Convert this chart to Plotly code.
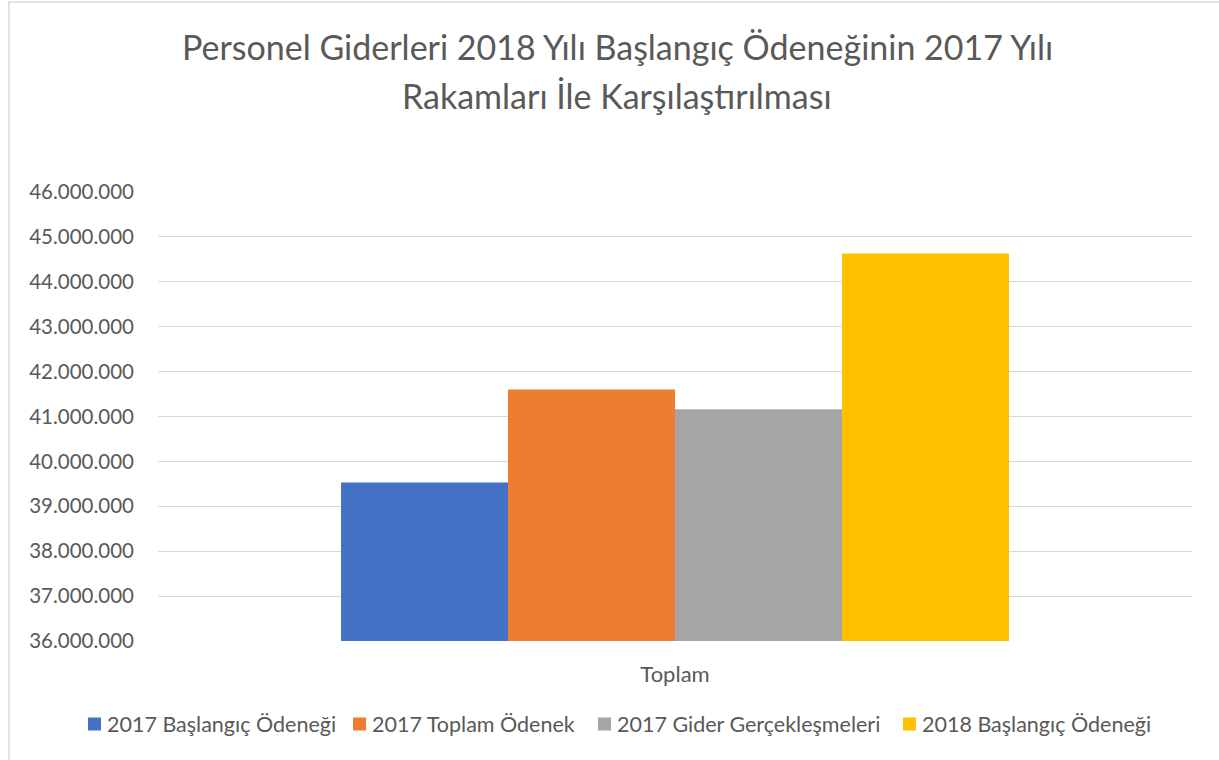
import plotly.graph_objects as go

categories = ["Toplam"]
series_names = ["2017 Başlangıç Ödeneği", "2017 Toplam Ödenek", "2017 Gider Gerçekleşmeleri", "2018 Başlangıç Ödeneği"]
series_values = [[39530000], [41600000], [41160000], [44630000]]
colors = ["#4472C4", "#ED7D31", "#A5A5A5", "#FFC000"]
tick_vals = [36000000 + i * 1000000 for i in range(11)]
title_lines = ["Personel Giderleri 2018 Yılı Başlangıç Ödeneğinin 2017 Yılı",
               "Rakamları İle Karşılaştırılması"]

FONT = "Lato, 'Open Sans', sans-serif"
TXT = "#595959"
W, H = 1219, 760
L, R, T, B = 158, 27, 192, 119
pw = W - L - R
ph = H - T - B
CX = 617
LEGEND_SYMBOL_X = [88, 353, 598, 903]   # layout positions (px) of legend keys
LEGEND_Y = 724
SYM = 13


def px(x):
    return (x - L) / pw


def py(y):
    return (T + ph - y) / ph


fig = go.Figure()
for name, vals, col in zip(series_names, series_values, colors):
    fig.add_trace(go.Bar(x=categories, y=vals, name=name, showlegend=False,
                         marker=dict(color=col, line=dict(width=0))))

annotations = []
for line, ypix in zip(title_lines, [47, 95]):
    annotations.append(dict(text=line, xref="paper", yref="paper", x=px(CX), y=py(ypix),
                            xanchor="center", yanchor="middle", showarrow=False,
                            font=dict(family=FONT, size=34, color=TXT)))

shapes = [dict(type="rect", xref="paper", yref="paper",
               x0=px(9), x1=px(1240), y0=py(2), y1=py(H + 20),
               line=dict(color="#D9D9D9", width=1.5), layer="below")]

# legend built from the series names and colours
for name, col, sx in zip(series_names, colors, LEGEND_SYMBOL_X):
    shapes.append(dict(type="rect", xref="paper", yref="paper",
                       x0=px(sx), x1=px(sx + SYM), y0=py(LEGEND_Y - SYM / 2), y1=py(LEGEND_Y + SYM / 2),
                       fillcolor=col, line=dict(width=0)))
    annotations.append(dict(text=name, xref="paper", yref="paper", x=px(sx + SYM + 4), y=py(LEGEND_Y),
                            xanchor="left", yanchor="middle", showarrow=False,
                            font=dict(family=FONT, size=21.5, color=TXT)))

fig.update_layout(
    width=W, height=H,
    margin=dict(l=L, r=R, t=T, b=B, autoexpand=False),
    paper_bgcolor="white", plot_bgcolor="white",
    separators=",.",
    barmode="group", bargap=0.354, bargroupgap=0,
    font=dict(family=FONT, color=TXT, size=21),
    showlegend=False,
    xaxis=dict(showgrid=False, showline=False, ticks="", tickfont=dict(size=22, color=TXT), ticklabelstandoff=18),
    yaxis=dict(range=[36000000, 46000000], tickvals=tick_vals, tickformat=",d",
               showgrid=True, gridcolor="#D9D9D9", gridwidth=1, zeroline=False, showline=False,
               ticks="", tickfont=dict(size=20.5, color=TXT), ticklabelstandoff=23),
    annotations=annotations,
    shapes=shapes,
)

fig.write_html("out.html", config={"displayModeBar": False},
               post_script="document.body.style.margin='0';")
